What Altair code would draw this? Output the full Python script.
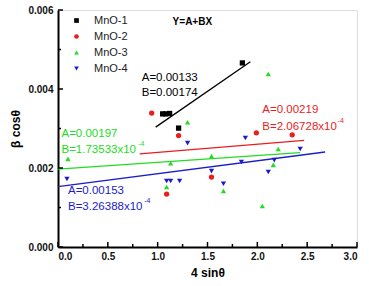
import altair as alt
import pandas as pd

# ---- measured points ----
series_names = ["MnO-1", "MnO-2", "MnO-3", "MnO-4"]
colors = ["#000000", "#ee1c1c", "#22dd22", "#1c1cc8"]
shapes = ["square", "circle", "triangle-up", "triangle-down"]

mno1_x = [1.05, 1.08, 1.12, 1.21, 1.85]
mno1_y = [0.00337, 0.00337, 0.00338, 0.00301, 0.00466]

mno2_x = [0.94, 1.09, 1.21, 1.54, 1.99, 2.35]
mno2_y = [0.00339, 0.00134, 0.00282, 0.00177, 0.00289, 0.00284]

mno3_x = [0.10, 1.09, 1.13, 1.30, 1.54, 1.66, 2.05, 2.11, 2.16, 2.21]
mno3_y = [0.00223, 0.00152, 0.00212, 0.00316, 0.00230, 0.00142, 0.00104, 0.00438, 0.00208, 0.00248]

mno4_x = [0.09, 1.09, 1.13, 1.22, 1.30, 1.54, 1.66, 1.84, 1.88, 2.11, 2.17, 2.43]
mno4_y = [0.00172, 0.00167, 0.00167, 0.00167, 0.00263, 0.00192, 0.00160, 0.00215, 0.00276, 0.00190, 0.00220, 0.00248]

# ---- linear fits Y = A + B*X ----
fit_a = [0.00133, 0.00219, 0.00197, 0.00153]
fit_b = [0.00174, 2.06728e-4, 1.73533e-4, 3.26388e-4]
fit_range = [(0.98, 1.93), (0.82, 2.47), (0.0, 2.43), (0.0, 2.68)]

fit_text_a = ["A=0.00133", "A=0.00219", "A=0.00197", "A=0.00153"]
fit_text_b = ["B=0.00174", "B=2.06728x10", "B=1.73533x10", "B=3.26388x10"]
fit_text_exp = ["", "-4", "-4", "-4"]
fit_text_x = [0.84, 2.05, 0.035, 0.10]
fit_text_ay = [0.00428, 0.00347, 0.00286, 0.00142]
fit_text_by = [0.00390, 0.00304, 0.00246, 0.00101]
exp_x = [0.0, 2.805, 0.805, 0.865]

x_ticks_major = [0.0, 0.5, 1.0, 1.5, 2.0, 2.5, 3.0]
x_ticks_minor = [0.25, 0.75, 1.25, 1.75, 2.25, 2.75]
y_ticks_major = [0.0, 0.002, 0.004, 0.006]
y_ticks_minor = [0.001, 0.003, 0.005]

W, H = 299, 237

points = pd.DataFrame(
    [(series_names[0], x, y) for x, y in zip(mno1_x, mno1_y)]
    + [(series_names[1], x, y) for x, y in zip(mno2_x, mno2_y)]
    + [(series_names[2], x, y) for x, y in zip(mno3_x, mno3_y)]
    + [(series_names[3], x, y) for x, y in zip(mno4_x, mno4_y)],
    columns=["series", "x", "y"],
)

lines = pd.DataFrame(
    [(series_names[i], colors[i], x, fit_a[i] + fit_b[i] * x)
     for i in range(4) for x in fit_range[i]],
    columns=["series", "clr", "x", "y"],
)

labels = pd.DataFrame({
    "series": series_names,
    "clr": colors,
    "x": fit_text_x,
    "ya": fit_text_ay,
    "yb": fit_text_by,
    "ta": fit_text_a,
    "tb": fit_text_b,
    "te": fit_text_exp,
    "xe": exp_x,
})

xs = alt.Scale(domain=[0, 3], nice=False)
ys = alt.Scale(domain=[0, 0.006], nice=False)
col = alt.Scale(domain=series_names, range=colors)
shp = alt.Scale(domain=series_names, range=shapes)

x_axis = alt.Axis(values=x_ticks_major, format=".1f", tickSize=0, grid=False,
                  labelFont="Liberation Sans", labelFontWeight="bold", labelFontSize=10,
                  labelPadding=4, labelColor="#111", title="4 sinθ",
                  titleFont="Liberation Sans", titleFontWeight="bold", titleFontSize=12,
                  titlePadding=6, domainColor="black", domainWidth=2)
y_axis = alt.Axis(values=y_ticks_major, format=".3f", tickSize=0, grid=False,
                  labelFont="Liberation Sans", labelFontWeight="bold", labelFontSize=10,
                  labelPadding=5, labelColor="#111", title="β cosθ",
                  titleFont="Liberation Sans", titleFontWeight="bold", titleFontSize=12,
                  titlePadding=5, domainColor="black", domainWidth=2)

legend = alt.Legend(
    title=None, orient="none", legendX=13, legendY=5,
    labelFont="Liberation Sans", labelFontSize=11, labelColor="#222",
    symbolSize=22, rowPadding=4, labelOffset=12, symbolStrokeWidth=0,
)

pts = alt.Chart(points).mark_point(filled=True, size=28, opacity=1).encode(
    x=alt.X("x:Q", scale=xs, axis=x_axis),
    y=alt.Y("y:Q", scale=ys, axis=y_axis),
    color=alt.Color("series:N", scale=col, legend=legend),
    shape=alt.Shape("series:N", scale=shp, legend=legend),
)

fit_lines = alt.Chart(lines).mark_line(strokeWidth=1.3).encode(
    x=alt.X("x:Q", scale=xs),
    y=alt.Y("y:Q", scale=ys),
    color=alt.Color("clr:N", scale=None),
    detail="series:N",
)

def txt(field_y, field_t, field_x="x", size=11.5, dy=0):
    return alt.Chart(labels).mark_text(
        align="left", baseline="middle", font="Liberation Sans", fontSize=size, dy=dy
    ).encode(
        x=alt.X(f"{field_x}:Q", scale=xs),
        y=alt.Y(f"{field_y}:Q", scale=ys),
        text=f"{field_t}:N",
        color=alt.Color("clr:N", scale=None),
    )

text_a = txt("ya", "ta")
text_b = txt("yb", "tb")
text_e = txt("yb", "te", field_x="xe", size=7, dy=-6)

title_eq = alt.Chart(pd.DataFrame({"x": [1.15], "y": [0.00570], "t": ["Y=A+BX"]})).mark_text(
    align="left", baseline="middle", font="Liberation Sans", fontSize=10, fontWeight="bold"
).encode(x=alt.X("x:Q", scale=xs), y=alt.Y("y:Q", scale=ys), text="t:N")

# inward tick marks
x_tick_major = alt.Chart(pd.DataFrame({"x": x_ticks_major})).mark_rule(color="black", strokeWidth=1.5).encode(
    x=alt.X("x:Q", scale=xs), y=alt.value(H), y2=alt.value(H - 5))
x_tick_minor = alt.Chart(pd.DataFrame({"x": x_ticks_minor})).mark_rule(color="black", strokeWidth=1.5).encode(
    x=alt.X("x:Q", scale=xs), y=alt.value(H), y2=alt.value(H - 3))
y_tick_major = alt.Chart(pd.DataFrame({"y": y_ticks_major})).mark_rule(color="black", strokeWidth=1.5).encode(
    y=alt.Y("y:Q", scale=ys), x=alt.value(0), x2=alt.value(5))
y_tick_minor = alt.Chart(pd.DataFrame({"y": y_ticks_minor})).mark_rule(color="black", strokeWidth=1.5).encode(
    y=alt.Y("y:Q", scale=ys), x=alt.value(0), x2=alt.value(3))

chart = alt.layer(
    fit_lines, pts, text_a, text_b, text_e, title_eq,
    x_tick_major, x_tick_minor, y_tick_major, y_tick_minor,
).properties(
    width=W, height=H, autosize="none",
    padding={"left": 58, "top": 10, "right": 12, "bottom": 39},
).configure_view(
    stroke="black", strokeWidth=1.2
).configure(background="white")

chart.save("out.html", embed_options={"renderer": "svg", "actions": False})
